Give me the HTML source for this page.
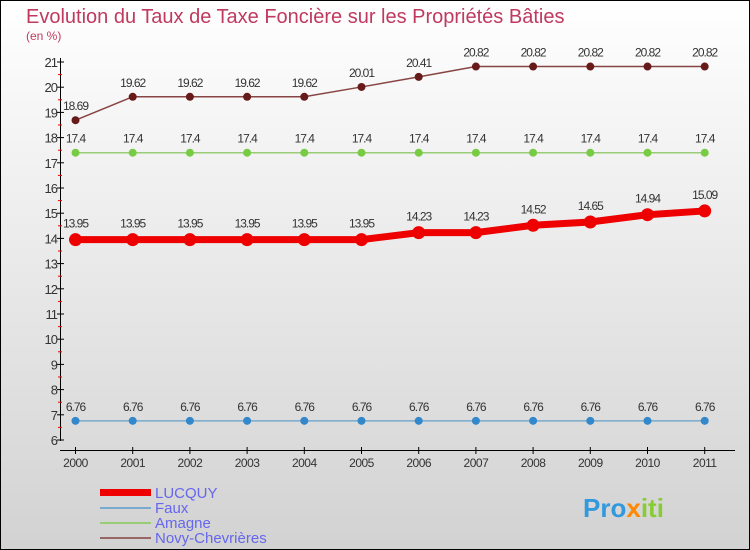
<!DOCTYPE html>
<html><head><meta charset="utf-8"><style>
body{margin:0}
svg{display:block;font-family:"Liberation Sans",sans-serif}
</style></head><body>
<svg id="c" width="750" height="550">
<defs><linearGradient id="bg" x1="0" y1="0" x2="0" y2="1"><stop offset="0" stop-color="#ffffff"/><stop offset="1" stop-color="#d2d2d2"/></linearGradient></defs>
<rect x="0.5" y="0.5" width="749" height="549" fill="url(#bg)" stroke="#000"/>
<text x="26" y="23" font-size="20" fill="#c0395f">Evolution du Taux de Taxe Foncière sur les Propriétés Bâties</text>
<text x="26" y="40" font-size="12" fill="#c0395f">(en %)</text>
<g id="axes"></g><g id="series"></g>
<g>
<rect x="100" y="489" width="51" height="7" fill="#ee0000"/>
<text x="155" y="498" font-size="15" fill="#6666ee">LUCQUY</text>
<rect x="100" y="507" width="51" height="2" fill="#77aacc"/>
<text x="155" y="513" font-size="15" fill="#6666ee">Faux</text>
<rect x="100" y="522" width="51" height="2" fill="#99cc77"/>
<text x="155" y="528" font-size="15" fill="#6666ee">Amagne</text>
<rect x="100" y="537" width="51" height="2" fill="#996666"/>
<text x="155" y="543" font-size="15" fill="#6666ee">Novy-Chevrières</text>
</g>
<text x="583" y="517" font-size="26" font-weight="bold"><tspan fill="#3399dd">Pro</tspan><tspan fill="#ff8800">x</tspan><tspan fill="#88cc33">iti</tspan></text>
</svg>
<script>
const years=[2000,2001,2002,2003,2004,2005,2006,2007,2008,2009,2010,2011];
const lucquy=[13.95,13.95,13.95,13.95,13.95,13.95,14.23,14.23,14.52,14.65,14.94,15.09];
const faux=[6.76,6.76,6.76,6.76,6.76,6.76,6.76,6.76,6.76,6.76,6.76,6.76];
const amagne=[17.4,17.4,17.4,17.4,17.4,17.4,17.4,17.4,17.4,17.4,17.4,17.4];
const novy=[18.69,19.62,19.62,19.62,19.62,20.01,20.41,20.82,20.82,20.82,20.82,20.82];
const yTicks=[6,7,8,9,10,11,12,13,14,15,16,17,18,19,20,21];
const NS="http://www.w3.org/2000/svg";
const X=i=>75.5+i*57.2;
const Y=v=>440-(v-6)*25.2;
function mk(t,a,p){const e=document.createElementNS(NS,t);for(const k in a)e.setAttribute(k,a[k]);p.appendChild(e);return e;}
const ax=document.getElementById('axes');
const ya=mk('line',{x1:60.5,y1:58,x2:60.5,y2:441,stroke:'#000'},ax);


const xa=mk('line',{x1:60,y1:450.5,x2:735,y2:450.5,stroke:'#000'},ax);


yTicks.forEach(v=>{
  mk('line',{x1:57,y1:Y(v),x2:64,y2:Y(v),stroke:'#000'},ax);
  if(v<21){mk('line',{x1:58,y1:Y(v+0.5),x2:62,y2:Y(v+0.5),stroke:'#e00'},ax);}
  const t=mk('text',{x:57,y:Y(v)+5,'text-anchor':'end','font-size':13,fill:'#333','letter-spacing':'-1'},ax);
  t.textContent=v;
  
  
});
years.forEach((yr,i)=>{
  mk('line',{x1:X(i),y1:447,x2:X(i),y2:454,stroke:'#000'},ax);
  const t=mk('text',{x:X(i),y:467,'text-anchor':'middle','font-size':12,fill:'#333','letter-spacing':'-0.5'},ax);
  t.textContent=yr;
  
  
});
const sg=document.getElementById('series');
function series(vals,name,color,lw,r,dot,labOff){
  const g=mk('g',{},sg);
  
  
  mk('polyline',{points:vals.map((v,i)=>X(i)+','+Y(v)).join(' '),fill:'none',stroke:color,'stroke-width':lw},g);
  vals.forEach((v,i)=>{
    const c=mk('circle',{cx:X(i),cy:Y(v),r:r,fill:dot},g);
    
    
    const t=mk('text',{x:X(i),y:Y(v)-labOff,'text-anchor':'middle','font-size':12,fill:'#333','letter-spacing':'-1'},g);
    t.textContent=String(v);
    
    
  });
}
series(faux,'faux','#77aacc',1.5,4,'#3388cc',10);
series(amagne,'amagne','#99cc77',1.5,4,'#77cc44',10);
series(novy,'novy-chevrieres','#884444',1.5,4,'#661a1a',10);
series(lucquy,'lucquy','#ee0000',7,6.5,'#ee0000',12);
</script>
</body></html>
